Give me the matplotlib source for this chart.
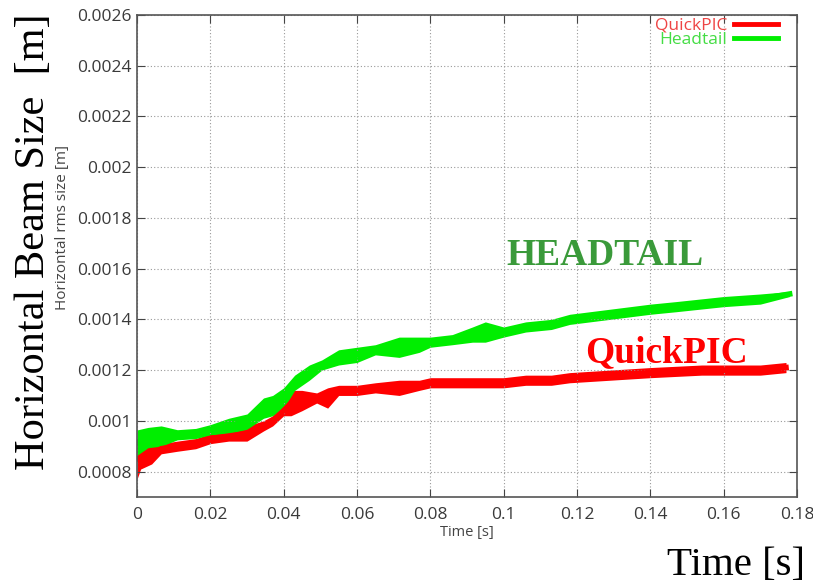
import matplotlib.pyplot as plt
from matplotlib.lines import Line2D

# Headtail (green) - band centre and half width
t_ht = [0.0, 0.003, 0.0066, 0.011, 0.016, 0.02, 0.025, 0.03, 0.0345, 0.037, 0.04,
        0.043, 0.047, 0.0504, 0.055, 0.06, 0.065, 0.0715, 0.077, 0.08, 0.086,
        0.0915, 0.095, 0.1, 0.106, 0.113, 0.118, 0.129, 0.14, 0.147, 0.16, 0.17, 0.178]
ht = [0.000914, 0.000934, 0.00094, 0.000945, 0.00095, 0.000965, 0.00098, 0.000997,
      0.00105, 0.00106, 0.00109, 0.00115, 0.00119, 0.00122, 0.00125, 0.00126,
      0.00128, 0.00129, 0.0013, 0.00131, 0.00132, 0.00134, 0.00135, 0.00135,
      0.00137, 0.00138, 0.0014, 0.00142, 0.00144, 0.00145, 0.00147, 0.00148, 0.0015]
ht_w = [0.00005, 0.00004, 0.00004, 0.00002, 0.00002, 0.00002, 0.00003, 0.00003,
        0.00004, 0.00004, 0.00004, 0.00003, 0.00003, 0.00002, 0.00003, 0.00003,
        0.00002, 0.00004, 0.00003, 0.00002, 0.00002, 0.00003, 0.00004, 0.00002,
        0.00002, 0.00002, 0.00002, 0.00002, 0.00002, 0.00002, 0.00002, 0.00002, 0.00001]

# QuickPIC (red)
t_qp = [0.0, 0.001, 0.004, 0.0066, 0.011, 0.016, 0.02, 0.025, 0.03, 0.0345, 0.037,
        0.04, 0.042, 0.045, 0.049, 0.052, 0.055, 0.06, 0.065, 0.0715, 0.077, 0.08,
        0.086, 0.093, 0.1, 0.106, 0.113, 0.118, 0.129, 0.14, 0.154, 0.16, 0.17, 0.177]
qp = [0.00085, 0.00085, 0.00087, 0.00089, 0.0009, 0.00091, 0.00093, 0.00094,
      0.00095, 0.00098, 0.001, 0.00104, 0.00107, 0.00108, 0.00109, 0.00109,
      0.00112, 0.00112, 0.00113, 0.00113, 0.00114, 0.00115, 0.00115, 0.00115,
      0.00115, 0.00116, 0.00116, 0.00117, 0.00118, 0.00119, 0.0012, 0.0012,
      0.0012, 0.00121]
qp_w = [0.00008, 0.00004, 0.00004, 0.00002, 0.00002, 0.00002, 0.00002, 0.00002,
        0.00003, 0.00002, 0.00002, 0.00002, 0.00005, 0.00004, 0.00002, 0.00004,
        0.00002, 0.00002, 0.00002, 0.00003, 0.00002, 0.00002, 0.00002, 0.00002,
        0.00002, 0.00002, 0.00002, 0.00002, 0.00002, 0.00002, 0.00002, 0.00002,
        0.00002, 0.00002]

xticks = [0, 0.02, 0.04, 0.06, 0.08, 0.1, 0.12, 0.14, 0.16, 0.18]
xtick_labels = ['0', '0.02', '0.04', '0.06', '0.08', '0.1', '0.12', '0.14', '0.16', '0.18']
yticks = [0.0008, 0.001, 0.0012, 0.0014, 0.0016, 0.0018, 0.002, 0.0022, 0.0024, 0.0026]
ytick_labels = ['0.0008', '0.001', '0.0012', '0.0014', '0.0016', '0.0018', '0.002',
                '0.0022', '0.0024', '0.0026']

red = '#ff0000'
green = '#00ee00'

plt.rcParams['font.family'] = ['Open Sans', 'DejaVu Sans']

fig = plt.figure(figsize=(8.13, 5.86), dpi=100)
ax = fig.add_axes([0.1685, 0.152, 0.8118, 0.8225])

lo = [c - w for c, w in zip(qp, qp_w)]
hi = [c + w for c, w in zip(qp, qp_w)]
ax.fill_between(t_qp, lo, hi, color=red, lw=0)
ax.plot(t_qp, qp, color=red, lw=4)

lo = [c - w for c, w in zip(ht, ht_w)]
hi = [c + w for c, w in zip(ht, ht_w)]
ax.fill_between(t_ht, lo, hi, color=green, lw=0)
ax.plot(t_ht, ht, color=green, lw=4)

ax.set_xlim(0, 0.18)
ax.set_ylim(0.0007, 0.0026)
ax.set_xticks(xticks)
ax.set_xticklabels(xtick_labels)
ax.set_yticks(yticks)
ax.set_yticklabels(ytick_labels)
ax.tick_params(direction='in', top=True, right=True, length=6, labelsize=12.5,
               labelcolor='#3a3a3a', color='#444444')
ax.tick_params(axis='x', pad=7)
ax.tick_params(axis='y', pad=4)
ax.grid(True, linestyle=(0, (1, 2)), color='#999999', lw=0.8)
for s in ax.spines.values():
    s.set_color('#555555')
    s.set_linewidth(1.2)

ax.set_xlabel('Time [s]', fontsize=10.5, color='#444444', labelpad=2)
ax.set_ylabel('Horizontal rms size [m]', fontsize=11, color='#444444')
ax.yaxis.set_label_coords(-0.101, 0.56)

handles = [Line2D([], [], color=red, lw=3.5), Line2D([], [], color=green, lw=3.5)]
leg = ax.legend(handles, ['QuickPIC', 'Headtail'], loc='upper right', frameon=False,
                markerfirst=False, fontsize=12.5, handlelength=2.5, labelspacing=-0.1,
                borderaxespad=0, borderpad=0, handletextpad=0.4,
                bbox_to_anchor=(0.971, 0.994))
leg.get_texts()[0].set_color('#ee4444')
leg.get_texts()[1].set_color('#44dd44')

ax.text(0.1276, 0.00165, 'HEADTAIL', color='#3a9a3a', fontsize=27, fontweight='bold',
        family='Liberation Serif', ha='center', va='center')
ax.text(0.1445, 0.00127, 'QuickPIC', color=red, fontsize=27, fontweight='bold',
        family='Liberation Serif', ha='center', va='center')

fig.text(0.041, 0.587, 'Horizontal Beam Size  [m]', rotation=90, fontsize=30.5,
         family='Liberation Serif', ha='center', va='center')
fig.text(0.99, 0.035, 'Time [s]', fontsize=29.5, family='Liberation Serif',
         ha='right', va='center')

fig.savefig('out.png', dpi=100)
